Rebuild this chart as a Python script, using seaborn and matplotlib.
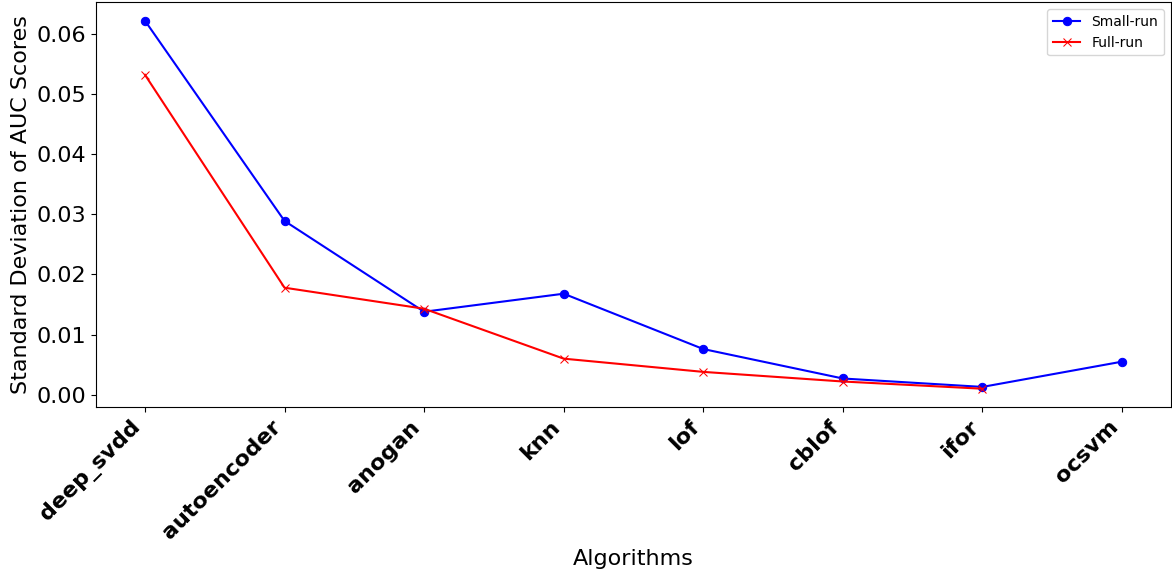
import numpy as np
import matplotlib
matplotlib.use("Agg")
import matplotlib.pyplot as plt
import seaborn as sns

algorithms = ["deep_svdd", "autoencoder", "anogan", "knn", "lof", "cblof", "ifor", "ocsvm"]
small_run = [0.0622, 0.0289, 0.0138, 0.0168, 0.0076, 0.0027, 0.0013, 0.0055]
full_run = [0.0532, 0.0178, 0.0143, 0.0060, 0.0038, 0.0022, 0.0010, np.nan]


def plot_std():
    fig, ax = plt.subplots(figsize=(11.72, 5.71), dpi=100)

    sns.lineplot(x=algorithms, y=small_run, marker="o", color="blue", markeredgecolor="blue",
                 label="Small-run", sort=False, ax=ax)
    sns.lineplot(x=algorithms, y=full_run, marker="x", color="red", markeredgecolor="red",
                 label="Full-run", sort=False, ax=ax)

    ax.set_xlabel("Algorithms", fontsize=16)
    ax.set_ylabel("Standard Deviation of AUC Scores", fontsize=16)
    ax.tick_params(axis="y", labelsize=16)
    plt.setp(ax.get_xticklabels(), rotation=45, ha="right", fontsize=16, fontweight="bold")
    ax.legend(loc="upper right")

    fig.subplots_adjust(left=0.082, right=0.999, bottom=0.287, top=0.996)
    fig.savefig("out.png", dpi=100)


if __name__ == "__main__":
    plot_std()
